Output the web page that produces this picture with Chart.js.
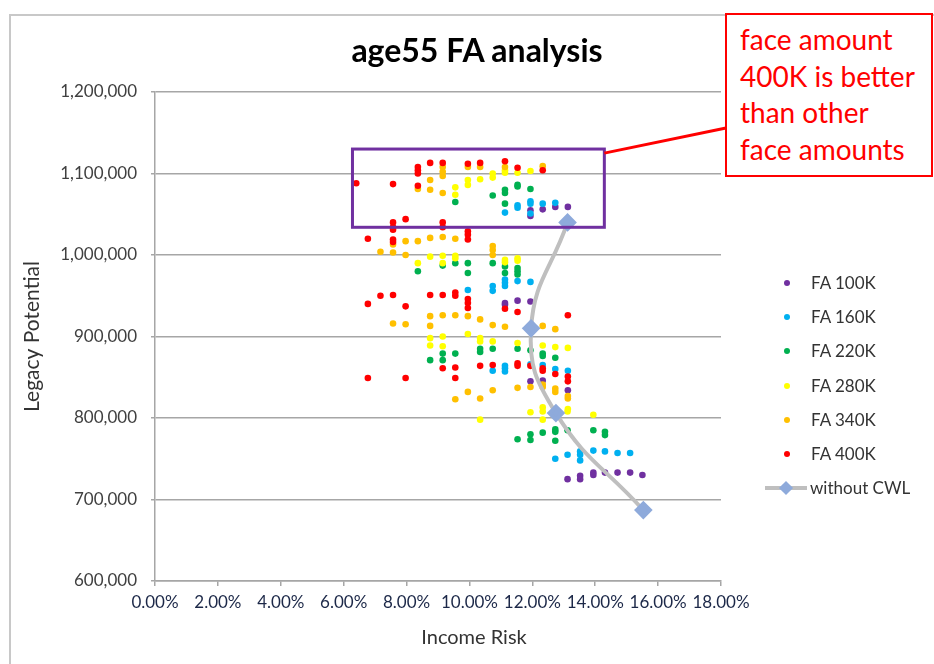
<!DOCTYPE html>
<html>
<head>
<meta charset="utf-8">
<script src="https://cdn.jsdelivr.net/npm/chart.js@4.4.1/dist/chart.umd.min.js"></script>
<style>
  body { margin: 0; background: #fff; font-family: Lato, sans-serif; }
  #wrap { position: relative; width: 934px; height: 664px; overflow: hidden; }
  #frame { position: absolute; left: 9px; top: 14px; width: 1000px; height: 700px; border: 2px solid #c8c8c8; }
  #age55 { position: absolute; left: 0; top: 0; }
  #title { position: absolute; left: 477px; top: 30px; transform: translateX(-50%); white-space: nowrap;
           font-size: 32px; font-weight: bold; color: #000; line-height: 40px; }
  #xtitle { position: absolute; left: 474px; top: 624px; transform: translateX(-50%); white-space: nowrap;
            font-size: 20px; color: #333; line-height: 24px; }
  #note { position: absolute; left: 725px; top: 13px; width: 208px; height: 164px; box-sizing: border-box;
          border: 2px solid #ff0000; background: #fff; color: #ff0000; font-size: 28px; line-height: 36.6px;
          padding: 6px 0 0 13px; }
  .lg { position: absolute; left: 811px; font-size: 17px; color: #333; line-height: 20px; height: 20px; }
  .dot { position: absolute; width: 6px; height: 6px; border-radius: 50%; }
</style>
</head>
<body>
<div id="wrap">
  <div id="frame"></div>
  <canvas id="age55" width="934" height="664"></canvas>
  <div id="title">age55 FA analysis</div>
  <div id="xtitle">Income Risk</div>
  <div id="note">face amount<br>400K is better<br>than other<br>face amounts</div>
  <div id="legend"></div>
</div>
<script>
// [income risk %, legacy potential]
const FA_100K = [[11.94,1055000],[11.94,1048000],[12.33,1056000],[12.73,1059000],[13.13,1059000],
  [11.13,941000],[11.13,939000],[11.53,944000],[11.94,943000],[11.94,845000],[12.33,846000],[13.13,834000],
  [13.12,725000],[13.52,729000],[13.52,725000],[13.94,733000],[13.94,730000],[14.31,733000],[14.71,733000],
  [15.11,733000],[15.5,730000]];

const FA_160K = [[11.13,1052000],[11.53,1061000],[11.53,1058000],[11.94,1066000],[11.94,1063000],[11.94,1051000],
  [12.33,1063000],[12.73,1064000],[9.95,957000],[10.74,962000],[10.74,956000],[11.13,970000],[11.13,966000],
  [11.13,962000],[11.53,968000],[11.94,967000],[10.74,858000],[11.13,864000],[11.13,861000],[11.13,857000],
  [11.94,866000],[12.33,865000],[12.73,860000],[13.13,858000],[12.73,750000],[13.12,755000],[13.52,759000],
  [13.52,755000],[13.52,748000],[13.94,760000],[14.31,759000],[14.71,757000],[15.11,757000]];

const FA_220K = [[9.55,1065000],[10.74,1073000],[11.13,1080000],[11.13,1076000],[11.13,1063000],[11.53,1086000],
  [11.53,1084000],[11.94,1081000],[8.36,980000],[9.15,987000],[9.55,990000],[9.95,990000],[9.95,978000],
  [10.74,990000],[11.13,986000],[11.13,978000],[11.53,984000],[11.53,980000],[11.53,976000],[8.75,871000],
  [9.15,879000],[9.15,871000],[9.55,879000],[10.34,885000],[10.34,881000],[10.74,885000],[11.53,885000],
  [11.94,883000],[12.33,879000],[12.33,876000],[12.73,874000],[11.53,774000],[11.94,780000],[11.94,773000],
  [12.33,782000],[12.73,786000],[12.73,783000],[12.73,772000],[13.12,785000],[13.94,785000],[14.31,783000],
  [14.31,779000]];

const FA_280K = [[9.55,1083000],[9.55,1074000],[9.95,1092000],[9.95,1086000],[10.34,1093000],[10.74,1100000],
  [10.74,1095000],[11.13,1104000],[11.13,1101000],[11.53,1101000],[11.94,1103000],[8.36,990000],[8.75,998000],
  [9.15,999000],[9.15,990000],[9.55,999000],[9.55,996000],[11.13,994000],[11.13,991000],[11.53,996000],
  [11.53,993000],[8.75,898000],[8.75,889000],[9.15,900000],[9.15,888000],[9.95,903000],[10.34,898000],
  [10.34,894000],[10.74,894000],[11.53,892000],[12.33,889000],[12.73,887000],[13.13,886000],[11.94,807000],
  [12.33,813000],[12.33,808000],[12.33,798000],[13.12,808000],[13.13,811000],[13.94,804000],[10.34,798000]];

const FA_340K = [[8.36,1081000],[8.75,1092000],[8.75,1080000],[9.15,1108000],[9.15,1102000],[9.15,1097000],
  [9.15,1076000],[9.95,1108000],[10.34,1108000],[11.13,1108000],[12.33,1109000],[7.57,1013000],[7.97,1017000],
  [8.36,1017000],[8.75,1021000],[9.15,1022000],[9.55,1020000],[7.17,1004000],[7.57,1003000],[7.97,1000000],
  [10.74,1011000],[10.74,1006000],[10.74,1000000],[8.75,925000],[9.15,926000],[9.55,926000],[9.95,925000],
  [10.34,921000],[7.57,916000],[7.97,915000],[8.75,913000],[10.74,914000],[11.13,912000],[12.33,913000],
  [12.73,909000],[9.55,823000],[9.95,832000],[10.34,824000],[10.74,834000],[11.53,837000],[11.94,838000],
  [12.33,841000],[12.33,838000],[12.73,836000],[12.73,832000],[13.13,827000],[13.13,824000]];

const FA_400K = [[6.4,1088000],[7.57,1087000],[8.36,1108000],[8.36,1104000],[8.36,1100000],[8.36,1085000],
  [8.75,1113000],[9.15,1113000],[9.95,1112000],[10.34,1113000],[11.13,1115000],[11.53,1107000],[12.33,1104000],
  [7.57,1040000],[7.57,1034000],[7.57,1031000],[7.97,1044000],[9.15,1040000],[9.15,1034000],[9.95,1029000],
  [9.95,1025000],[9.95,1019000],[6.77,1020000],[7.57,1019000],[7.57,1016000],[7.17,950000],[7.57,951000],
  [6.77,940000],[7.97,937000],[8.75,951000],[9.15,951000],[9.55,954000],[9.55,950000],[9.95,946000],
  [9.95,941000],[9.95,935000],[11.13,934000],[11.53,930000],[13.13,926000],[6.77,849000],[7.97,849000],
  [9.15,861000],[9.55,862000],[9.55,849000],[10.34,864000],[10.74,865000],[11.53,867000],[11.53,864000],
  [11.94,864000],[12.33,861000],[12.33,858000],[12.73,854000],[13.13,851000],[13.13,845000]];

const WITHOUT_CWL = [[13.12,1040000],[11.96,910000],[12.75,806000],[15.53,687000]];

const SERIES_NAMES = ['FA 100K', 'FA 160K', 'FA 220K', 'FA 280K', 'FA 340K', 'FA 400K'];
const SERIES_COLORS = ['#7030a0', '#00b0f0', '#00b050', '#ffff00', '#ffc000', '#ff0000'];
const LINE_NAME = 'without CWL';

// highlight box around the best cluster (x range %, y range)
const BOX_X = [6.28, 14.29];
const BOX_Y = [1034000, 1130000];

const X_TICKS = [0, 2, 4, 6, 8, 10, 12, 14, 16, 18];

const allSeries = [FA_100K, FA_160K, FA_220K, FA_280K, FA_340K, FA_400K];

const datasets = allSeries.map((pts, i) => ({
  label: SERIES_NAMES[i],
  data: pts.map(p => ({ x: p[0], y: p[1] })),
  backgroundColor: SERIES_COLORS[i],
  borderColor: SERIES_COLORS[i],
  pointRadius: 3.3,
  pointBorderWidth: 0,
  order: 6 - i
}));

datasets.push({
  label: LINE_NAME,
  data: WITHOUT_CWL.map(p => ({ x: p[0], y: p[1] })),
  showLine: true,
  tension: 0.45,
  borderColor: '#bfbfbf',
  borderWidth: 4,
  pointStyle: 'rectRot',
  pointRadius: 6.5,
  pointBackgroundColor: '#8eaadb',
  pointBorderColor: '#8eaadb',
  order: 0
});

// draws the purple box and the red leader to the note
const annotate = {
  id: 'annotate',
  afterDatasetsDraw(chart) {
    const { ctx, scales: { x, y } } = chart;
    const l = x.getPixelForValue(BOX_X[0]), r = x.getPixelForValue(BOX_X[1]);
    const t = y.getPixelForValue(BOX_Y[1]), b = y.getPixelForValue(BOX_Y[0]);
    ctx.save();
    ctx.strokeStyle = '#7030a0';
    ctx.lineWidth = 3;
    ctx.strokeRect(l, t, r - l, b - t);
    ctx.strokeStyle = '#ff0000';
    ctx.lineWidth = 3;
    ctx.beginPath();
    ctx.moveTo(r, y.getPixelForValue(1125000));
    ctx.lineTo(726, 128);
    ctx.stroke();
    ctx.restore();
  }
};

const gridGray = '#a6a6a6';

new Chart(document.getElementById('age55'), {
  type: 'scatter',
  data: { datasets },
  plugins: [annotate],
  options: {
    responsive: false,
    animation: false,
    layout: { padding: { top: 92, right: 213, bottom: 0, left: 0 } },
    plugins: {
      legend: { display: false },
      tooltip: { enabled: false },
      title: { display: false }
    },
    scales: {
      x: {
        type: 'linear',
        min: 0,
        max: 18,
        afterBuildTicks: s => { s.ticks = X_TICKS.map(v => ({ value: v })); },
        afterFit: s => { s.height = 83; },
        ticks: {
          callback: v => v.toFixed(2) + '%',
          color: '#1c2848',
          font: { family: 'Lato', size: 17 },
          padding: 6,
          maxRotation: 0,
          autoSkip: false
        },
        grid: { drawOnChartArea: false, color: gridGray, lineWidth: 1.5, tickLength: 5 },
        border: { color: gridGray, width: 1.5 }
      },
      y: {
        min: 600000,
        max: 1200000,
        afterFit: s => { s.width = 155; },
        ticks: {
          stepSize: 100000,
          callback: v => v.toLocaleString('en-US'),
          color: '#404040',
          font: { family: 'Lato', size: 17 },
          padding: 14
        },
        grid: { color: gridGray, lineWidth: 1.5, tickLength: 4 },
        border: { color: gridGray, width: 1.5 },
        title: {
          display: true,
          text: 'Legacy Potential',
          color: '#333',
          font: { family: 'Lato', size: 21 },
          padding: { top: 20, bottom: 0 }
        }
      }
    }
  }
});

// legend on the right, built from the series lists
const legend = document.getElementById('legend');
SERIES_NAMES.forEach((name, i) => {
  const cy = 283 + i * 34.2;
  const dot = document.createElement('div');
  dot.className = 'dot';
  dot.style.left = '784px';
  dot.style.top = (cy - 3) + 'px';
  dot.style.background = SERIES_COLORS[i];
  legend.appendChild(dot);
  const txt = document.createElement('div');
  txt.className = 'lg';
  txt.style.top = (cy - 10) + 'px';
  txt.textContent = name;
  legend.appendChild(txt);
});
const lineY = 283 + 6 * 34.2;
legend.insertAdjacentHTML('beforeend',
  `<div style="position:absolute;left:765px;top:${lineY - 2}px;width:42px;height:4px;background:#bfbfbf"></div>` +
  `<div style="position:absolute;left:781px;top:${lineY - 5}px;width:10px;height:10px;background:#8eaadb;transform:rotate(45deg)"></div>` +
  `<div class="lg" style="left:810px;top:${lineY - 10}px">${LINE_NAME}</div>`);
</script>
</body>
</html>
